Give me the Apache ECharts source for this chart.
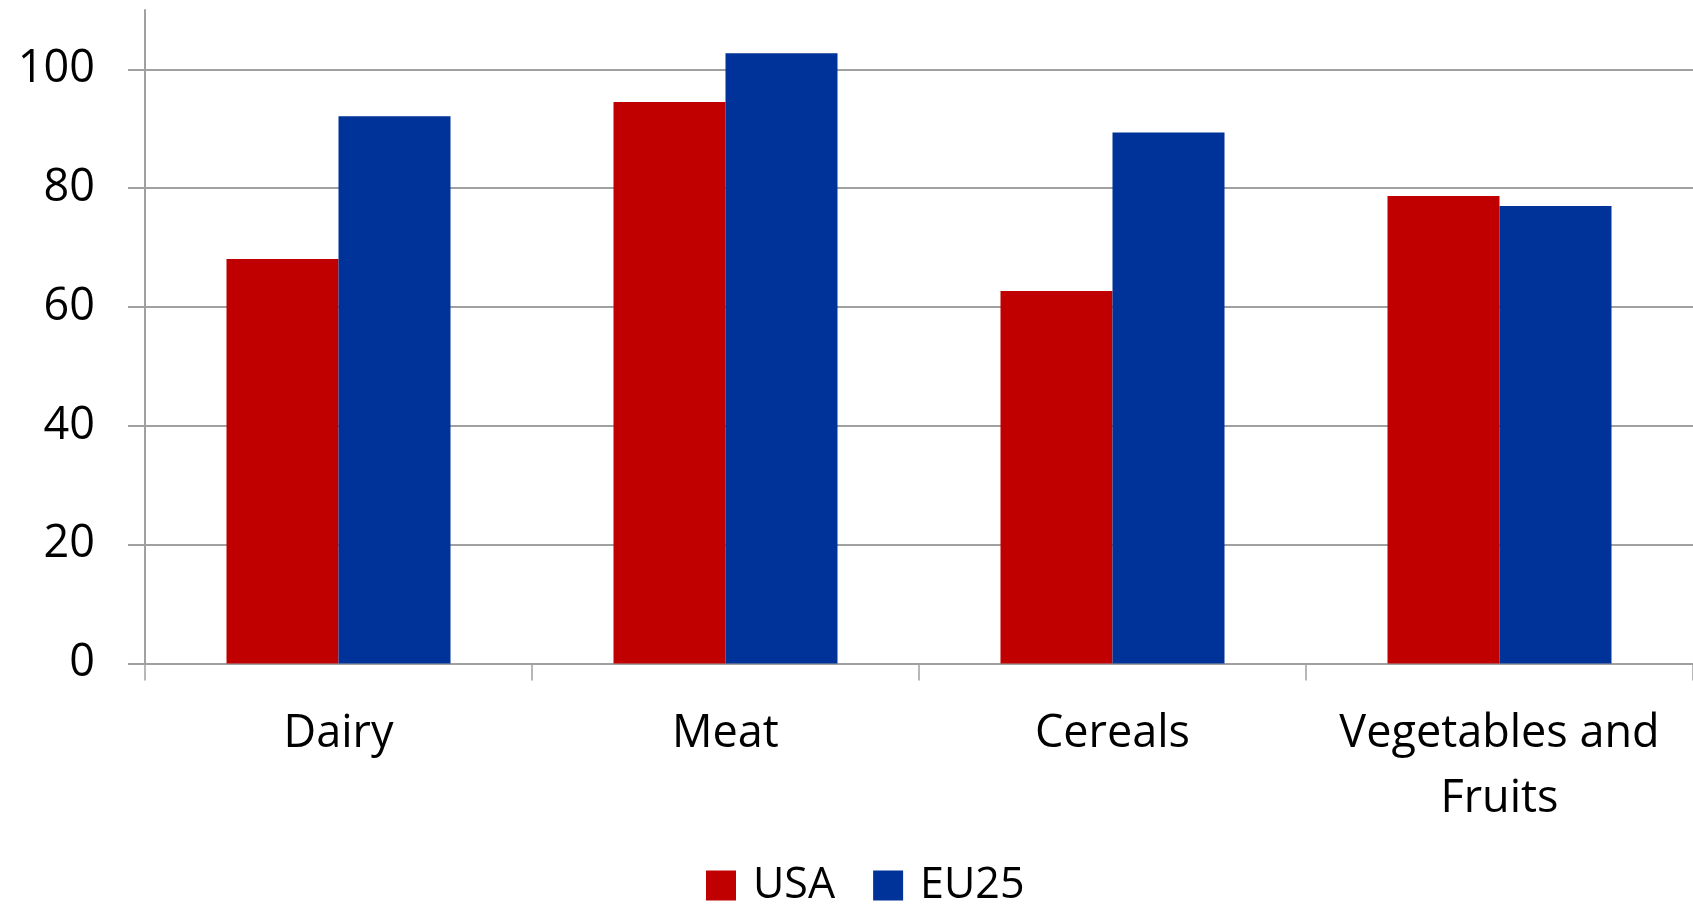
<!DOCTYPE html>
<html>
<head>
<meta charset="utf-8">
<script src="https://cdn.jsdelivr.net/npm/echarts@6/dist/echarts.min.js"></script>
<style>
html,body{margin:0;padding:0;background:#fff;}
#chart{width:1693px;height:904px;}
</style>
</head>
<body>
<div id="chart"></div>
<script>
const categories = ["Dairy", "Meat", "Cereals", "Vegetables and Fruits"];
const usaValues = [68.1, 94.5, 62.7, 78.7];
const eu25Values = [92.1, 102.7, 89.4, 77.0];
const yTicks = [0, 20, 40, 60, 80, 100];
const seriesNames = ["USA", "EU25"];

const FONT = "'Open Sans', 'Noto Sans', sans-serif";
const chart = echarts.init(document.getElementById('chart'), null, {renderer: 'canvas'});
chart.setOption({
  animation: false,
  backgroundColor: '#ffffff',
  color: ['#C00000', '#003399'],
  legend: {
    data: seriesNames,
    left: 706,
    top: 864,
    padding: 0,
    itemWidth: 30,
    itemHeight: 30,
    itemGap: 38,
    icon: 'rect',
    textStyle: {fontFamily: FONT, fontSize: 43, color: '#000', padding: [0, 0, 0, 12]}
  },
  grid: {left: 145, top: 10, width: 1552, height: 653.5, containLabel: false},
  xAxis: {
    type: 'category',
    data: categories,
    axisLine: {lineStyle: {color: '#a0a0a0', width: 2}},
    axisTick: {show: true, length: 17, lineStyle: {color: '#a0a0a0', width: 1.5}},
    axisLabel: {
      fontFamily: FONT, fontSize: 45, color: '#000', margin: 38, lineHeight: 65,
      interval: 0,
      formatter: v => v.replace('and ', 'and\n')
    }
  },
  yAxis: {
    type: 'value',
    min: 0,
    max: 110,
    interval: 20,
    axisLine: {show: true, lineStyle: {color: '#a0a0a0', width: 2}},
    axisTick: {show: true, length: 17, customValues: yTicks, lineStyle: {color: '#a0a0a0', width: 2}},
    axisLabel: {
      fontFamily: FONT, fontSize: 45, color: '#000', margin: 50, customValues: yTicks,
      formatter: v => (yTicks.indexOf(v) >= 0 ? String(v) : '')
    },
    splitLine: {show: true, lineStyle: {color: '#a0a0a0', width: 2}}
  },
  series: [
    {name: seriesNames[0], type: 'bar', data: usaValues, barWidth: 112, barGap: '0%', itemStyle: {color: '#C00000'}},
    {name: seriesNames[1], type: 'bar', data: eu25Values, barWidth: 112, barGap: '0%', itemStyle: {color: '#003399'}}
  ]
});
</script>
</body>
</html>
